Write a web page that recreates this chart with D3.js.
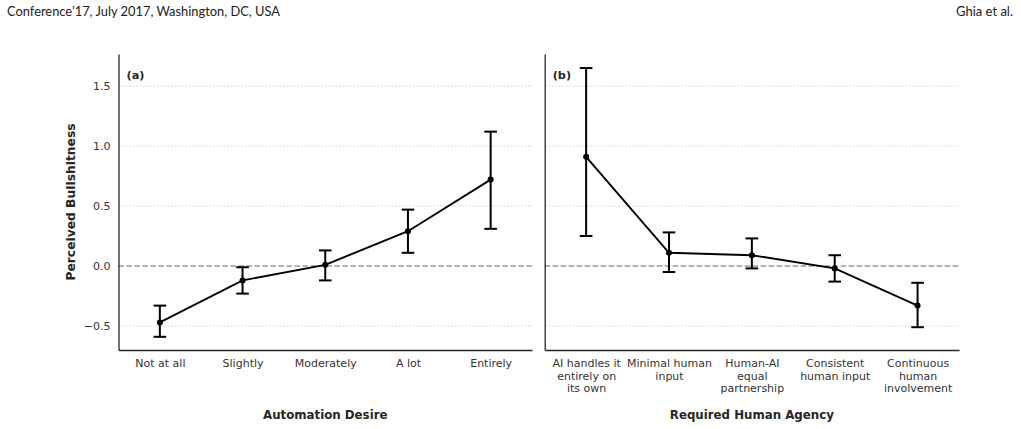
<!DOCTYPE html>
<html><head><meta charset="utf-8">
<script src="https://cdn.jsdelivr.net/npm/d3@7"></script>
<style>
body{margin:0;background:#fff;}
svg{display:block;}
</style></head>
<body><svg id="c" width="1021" height="429" font-family="DejaVu Sans, sans-serif"></svg>
<script>
const header = ["Conference\u201917, July 2017, Washington, DC, USA", "Ghia et al."];
const catsA = ["Not at all","Slightly","Moderately","A lot","Entirely"];
const meanA = [-0.47, -0.12, 0.01, 0.29, 0.72];
const loA   = [-0.59, -0.23, -0.12, 0.11, 0.31];
const hiA   = [-0.33, -0.01, 0.13, 0.47, 1.12];
const catsB = ["AI handles it\nentirely on\nits own","Minimal human\ninput","Human-AI\nequal\npartnership","Consistent\nhuman input","Continuous\nhuman\ninvolvement"];
const meanB = [0.91, 0.11, 0.09, -0.02, -0.33];
const loB   = [0.25, -0.05, -0.02, -0.13, -0.51];
const hiB   = [1.65, 0.28, 0.23, 0.09, -0.14];
const yTicks = [-0.5, 0.0, 0.5, 1.0, 1.5];
const yDomain = [-0.7, 1.767];
const panelLabels = ["(a)","(b)"];
const xTitles = ["Automation Desire","Required Human Agency"];
const yTitle = "Perceived Bullshitness";

const svg = d3.select("#c");
svg.append("text").attr("x",7).attr("y",16).style("font-family","Lato, 'Open Sans', sans-serif")
  .attr("font-size",12.5).attr("fill","#222").attr("textLength",273).attr("lengthAdjust","spacingAndGlyphs").text(header[0]);
svg.append("text").attr("x",956).attr("y",16).style("font-family","Lato, 'Open Sans', sans-serif")
  .attr("font-size",12.5).attr("fill","#222").attr("textLength",57).attr("lengthAdjust","spacingAndGlyphs").text(header[1]);

const plotTop = 54, plotBottom = 350;
const y = d3.scaleLinear().domain(yDomain).range([plotBottom, plotTop]);
const panels = [
  {x0:118.5, x1:532, cats:catsA, mean:meanA, lo:loA, hi:hiA, label:panelLabels[0], title:xTitles[0], yaxis:true},
  {x0:544.7, x1:959, cats:catsB, mean:meanB, lo:loB, hi:hiB, label:panelLabels[1], title:xTitles[1], yaxis:false}
];

panels.forEach(p => {
  const g = svg.append("g");
  const x = d3.scalePoint().domain(p.cats).range([p.x0, p.x1]).padding(0.5);
  g.selectAll("line.grid").data(yTicks.filter(t=>t!==0)).join("line")
    .attr("x1",p.x0).attr("x2",p.x1).attr("y1",d=>y(d)).attr("y2",d=>y(d))
    .attr("stroke","#d0d0d0").attr("stroke-width",0.8).attr("stroke-dasharray","2,1.5");
  g.append("line").attr("x1",p.x0).attr("x2",p.x1).attr("y1",y(0)).attr("y2",y(0))
    .attr("stroke","#999").attr("stroke-width",1.4).attr("stroke-dasharray","5.5,2.5");
  const ya = g.append("g").attr("transform",`translate(${p.x0},0)`)
    .call(d3.axisLeft(y).tickValues(yTicks).tickSize(0).tickPadding(8).tickFormat(d=>d3.format(".1f")(d).replace("-","\u2212")));
  ya.attr("font-family","DejaVu Sans");
  ya.select(".domain").attr("stroke","#262626").attr("stroke-width",1.3);
  ya.selectAll("text").attr("font-size",11).attr("fill","#333");
  if(!p.yaxis) ya.selectAll(".tick").remove();
  const xa = g.append("g").attr("transform",`translate(0,${plotBottom})`)
    .call(d3.axisBottom(x).tickSize(0).tickPadding(9).tickFormat(""));
  xa.attr("font-family","DejaVu Sans");
  xa.select(".domain").attr("stroke","#262626").attr("stroke-width",1.3);
  xa.selectAll(".tick").each(function(d){
    const t = d3.select(this).append("text").attr("fill","#333").attr("font-size",11)
      .attr("text-anchor","middle").attr("y",17);
    d.split("\n").forEach((ln,i)=>t.append("tspan").attr("x",0).attr("dy",i===0?0:12.6).text(ln));
  });
  const idx = d3.range(p.cats.length);
  g.selectAll("line.err").data(idx).join("line")
    .attr("x1",i=>x(p.cats[i])).attr("x2",i=>x(p.cats[i]))
    .attr("y1",i=>y(p.lo[i])).attr("y2",i=>y(p.hi[i])).attr("stroke","#000").attr("stroke-width",2);
  ["lo","hi"].forEach(k=>{
    g.selectAll("line.cap"+k).data(idx).join("line")
      .attr("x1",i=>x(p.cats[i])-6.3).attr("x2",i=>x(p.cats[i])+6.3)
      .attr("y1",i=>y(p[k][i])).attr("y2",i=>y(p[k][i])).attr("stroke","#000").attr("stroke-width",2);
  });
  g.append("path").datum(idx)
    .attr("d",d3.line().x(i=>x(p.cats[i])).y(i=>y(p.mean[i])))
    .attr("fill","none").attr("stroke","#000").attr("stroke-width",1.9);
  g.selectAll("circle").data(idx).join("circle")
    .attr("cx",i=>x(p.cats[i])).attr("cy",i=>y(p.mean[i])).attr("r",3).attr("fill","#000");
  g.append("text").attr("x",p.x0+8).attr("y",79).attr("font-size",11.3).attr("font-weight","bold")
    .attr("fill","#262626").text(p.label);
  g.append("text").attr("x",(p.x0+p.x1)/2).attr("y",419).attr("text-anchor","middle")
    .attr("font-size",11.8).attr("font-weight","bold").attr("fill","#262626").text(p.title);
});
svg.append("text").attr("transform",`translate(74.5,${(plotTop+plotBottom)/2}) rotate(-90)`).attr("text-anchor","middle")
  .attr("font-size",12.3).attr("font-weight","bold").attr("fill","#262626").text(yTitle);
</script></body></html>
